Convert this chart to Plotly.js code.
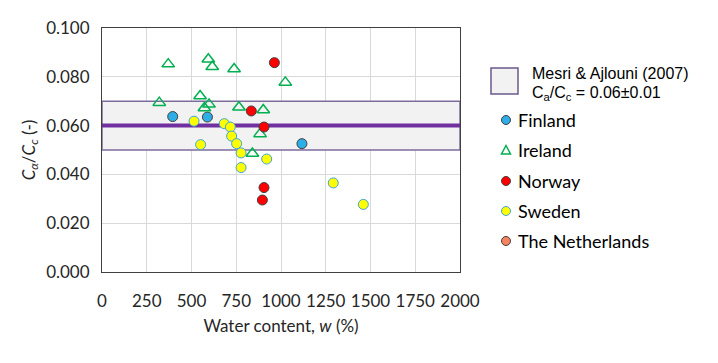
<!DOCTYPE html>
<html lang="en">
<head>
    <meta charset="UTF-8">
    <title>Creep ratio vs water content</title>
    <script src="https://cdn.plot.ly/plotly-3.0.1.min.js" charset="utf-8"></script>
    <style>
        body { margin: 0; background: #fff; }
        #chart { width: 718px; height: 363px; }
    </style>
</head>
<body>
<div id="chart"></div>
<script>
// Mesri & Ajlouni (2007) band
const bandLow = 0.05;
const bandMid = 0.06;
const bandHigh = 0.07;
const bandX = [0, 2000];

// water content w (%) and Ca/Cc per country
const finlandW = [395, 589, 1117];
const finlandR = [0.0637, 0.0635, 0.0526];

const irelandW = [370, 594, 616, 738, 1024, 320, 548, 598, 572, 765, 901, 883, 840];
const irelandR = [0.0852, 0.0872, 0.0841, 0.0832, 0.0777, 0.0694, 0.0721, 0.0687, 0.0672, 0.0675, 0.0664, 0.0566, 0.0486];

const norwayW = [963, 834, 905, 905, 896];
const norwayR = [0.0858, 0.0660, 0.0594, 0.0346, 0.0295];

const swedenW = [514, 683, 717, 724, 752, 551, 777, 920, 777, 1292, 1460];
const swedenR = [0.0618, 0.0608, 0.0594, 0.0557, 0.0526, 0.0522, 0.0488, 0.0463, 0.0428, 0.0365, 0.0277];

const netherlandsW = [];
const netherlandsR = [];

const xTicks = [0, 250, 500, 750, 1000, 1250, 1500, 1750, 2000];
const yTicks = [0, 0.02, 0.04, 0.06, 0.08, 0.1];

const font = 'Lato, "Open Sans", sans-serif';
const purple = '#7030a0';

const countries = [
    { name: 'Finland', x: finlandW, y: finlandR, symbol: 'circle', fill: '#2eaee6', line: '#404040', lw: 1 },
    { name: 'Ireland', x: irelandW, y: irelandR, symbol: 'triangle-up-open', fill: '#00b050', line: '#00b050', lw: 1.5 },
    { name: 'Norway', x: norwayW, y: norwayR, symbol: 'circle', fill: '#ff0000', line: '#404040', lw: 1 },
    { name: 'Sweden', x: swedenW, y: swedenR, symbol: 'circle', fill: '#ffff00', line: '#3fa3dc', lw: 1 },
    { name: 'The Netherlands', x: netherlandsW, y: netherlandsR, symbol: 'circle', fill: '#f4845f', line: '#404040', lw: 1 }
];

const data = [
    {
        x: [bandX[0], bandX[1], bandX[1], bandX[0], bandX[0]],
        y: [bandLow, bandLow, bandHigh, bandHigh, bandLow],
        mode: 'lines',
        fill: 'toself',
        fillcolor: '#f2f2f2',
        line: { color: '#7d6b9e', width: 1.5 },
        hoverinfo: 'skip'
    },
    {
        x: bandX,
        y: [bandMid, bandMid],
        mode: 'lines',
        line: { color: purple, width: 4 },
        hoverinfo: 'skip'
    }
];

countries.forEach(c => {
    data.push({
        x: c.x,
        y: c.y,
        mode: 'markers',
        name: c.name,
        marker: {
            symbol: c.symbol,
            size: c.symbol === 'circle' ? 10 : 11,
            color: c.fill,
            line: { color: c.line, width: c.lw }
        }
    });
});

// hand-drawn legend, placed in paper coords
const plotL = 102, plotR = 460, plotT = 28, plotB = 272;
const px = v => (v - plotL) / (plotR - plotL);
const py = v => (plotB - v) / (plotB - plotT);

const shapes = [
    {
        type: 'rect', xref: 'paper', yref: 'paper',
        x0: px(491), x1: px(518), y0: py(94), y1: py(68),
        fillcolor: '#f2f2f2', line: { color: '#6a5a8c', width: 1.5 }
    }
];
const annotations = [
    {
        xref: 'paper', yref: 'paper', x: px(530), y: py(73), xanchor: 'left', yanchor: 'middle',
        text: 'Mesri &amp; Ajlouni (2007)', showarrow: false,
        font: { family: '"Liberation Sans", Arial, sans-serif', size: 16, color: '#000' }
    },
    {
        xref: 'paper', yref: 'paper', x: px(530), y: py(93), xanchor: 'left', yanchor: 'middle',
        text: 'C<sub>a</sub>/C<sub>c</sub> = 0.06±0.01', showarrow: false,
        font: { family: '"Liberation Sans", Arial, sans-serif', size: 16, color: '#000' }
    }
];

const legendY = [120, 150, 181, 211, 241];
countries.forEach((c, i) => {
    const base = {
        xref: 'paper', yref: 'paper', xsizemode: 'pixel', ysizemode: 'pixel',
        xanchor: px(506), yanchor: py(legendY[i])
    };
    if (c.symbol === 'circle') {
        shapes.push(Object.assign({}, base, {
            type: 'circle', x0: -4.5, x1: 4.5, y0: -4.5, y1: 4.5,
            fillcolor: c.fill, line: { color: c.line, width: c.lw }
        }));
    } else {
        shapes.push(Object.assign({}, base, {
            type: 'path', path: 'M -4.5,-4 L 4.5,-4 L 0,4.5 Z',
            fillcolor: 'rgba(0,0,0,0)', line: { color: c.line, width: c.lw }
        }));
    }
    annotations.push({
        xref: 'paper', yref: 'paper', x: px(516), y: py(legendY[i]), xanchor: 'left', yanchor: 'middle',
        text: c.name, showarrow: false,
        font: { family: font, size: 18, color: '#000' }
    });
});

const layout = {
    width: 718,
    height: 363,
    margin: { l: plotL, r: 718 - plotR, t: plotT, b: 363 - plotB },
    paper_bgcolor: '#fff',
    plot_bgcolor: '#fff',
    showlegend: false,
    font: { family: font, size: 17, color: '#262626' },
    xaxis: {
        range: [0, 2000],
        tickvals: xTicks,
        ticktext: xTicks.map(String),
        showgrid: true,
        gridcolor: '#d9d9d9',
        gridwidth: 1,
        zeroline: false,
        showline: true,
        mirror: true,
        linecolor: '#404040',
        linewidth: 1,
        ticks: '',
        ticklabelstandoff: 14,
        title: { text: 'Water content, <i>w</i> (%)', standoff: 9, font: { size: 17, color: '#262626' } }
    },
    yaxis: {
        range: [0, 0.1],
        tickvals: yTicks,
        tickformat: '.3f',
        showgrid: true,
        gridcolor: '#d9d9d9',
        gridwidth: 1,
        zeroline: false,
        showline: true,
        mirror: true,
        linecolor: '#404040',
        linewidth: 1,
        ticks: '',
        ticklabelstandoff: 8,
        title: { text: '<i>C<sub>α</sub></i>/<i>C<sub>c</sub></i> (-)', standoff: 6, font: { size: 17, color: '#262626' } }
    },
    shapes: shapes,
    annotations: annotations
};

Plotly.newPlot('chart', data, layout, { staticPlot: true, displayModeBar: false });
</script>
</body>
</html>
